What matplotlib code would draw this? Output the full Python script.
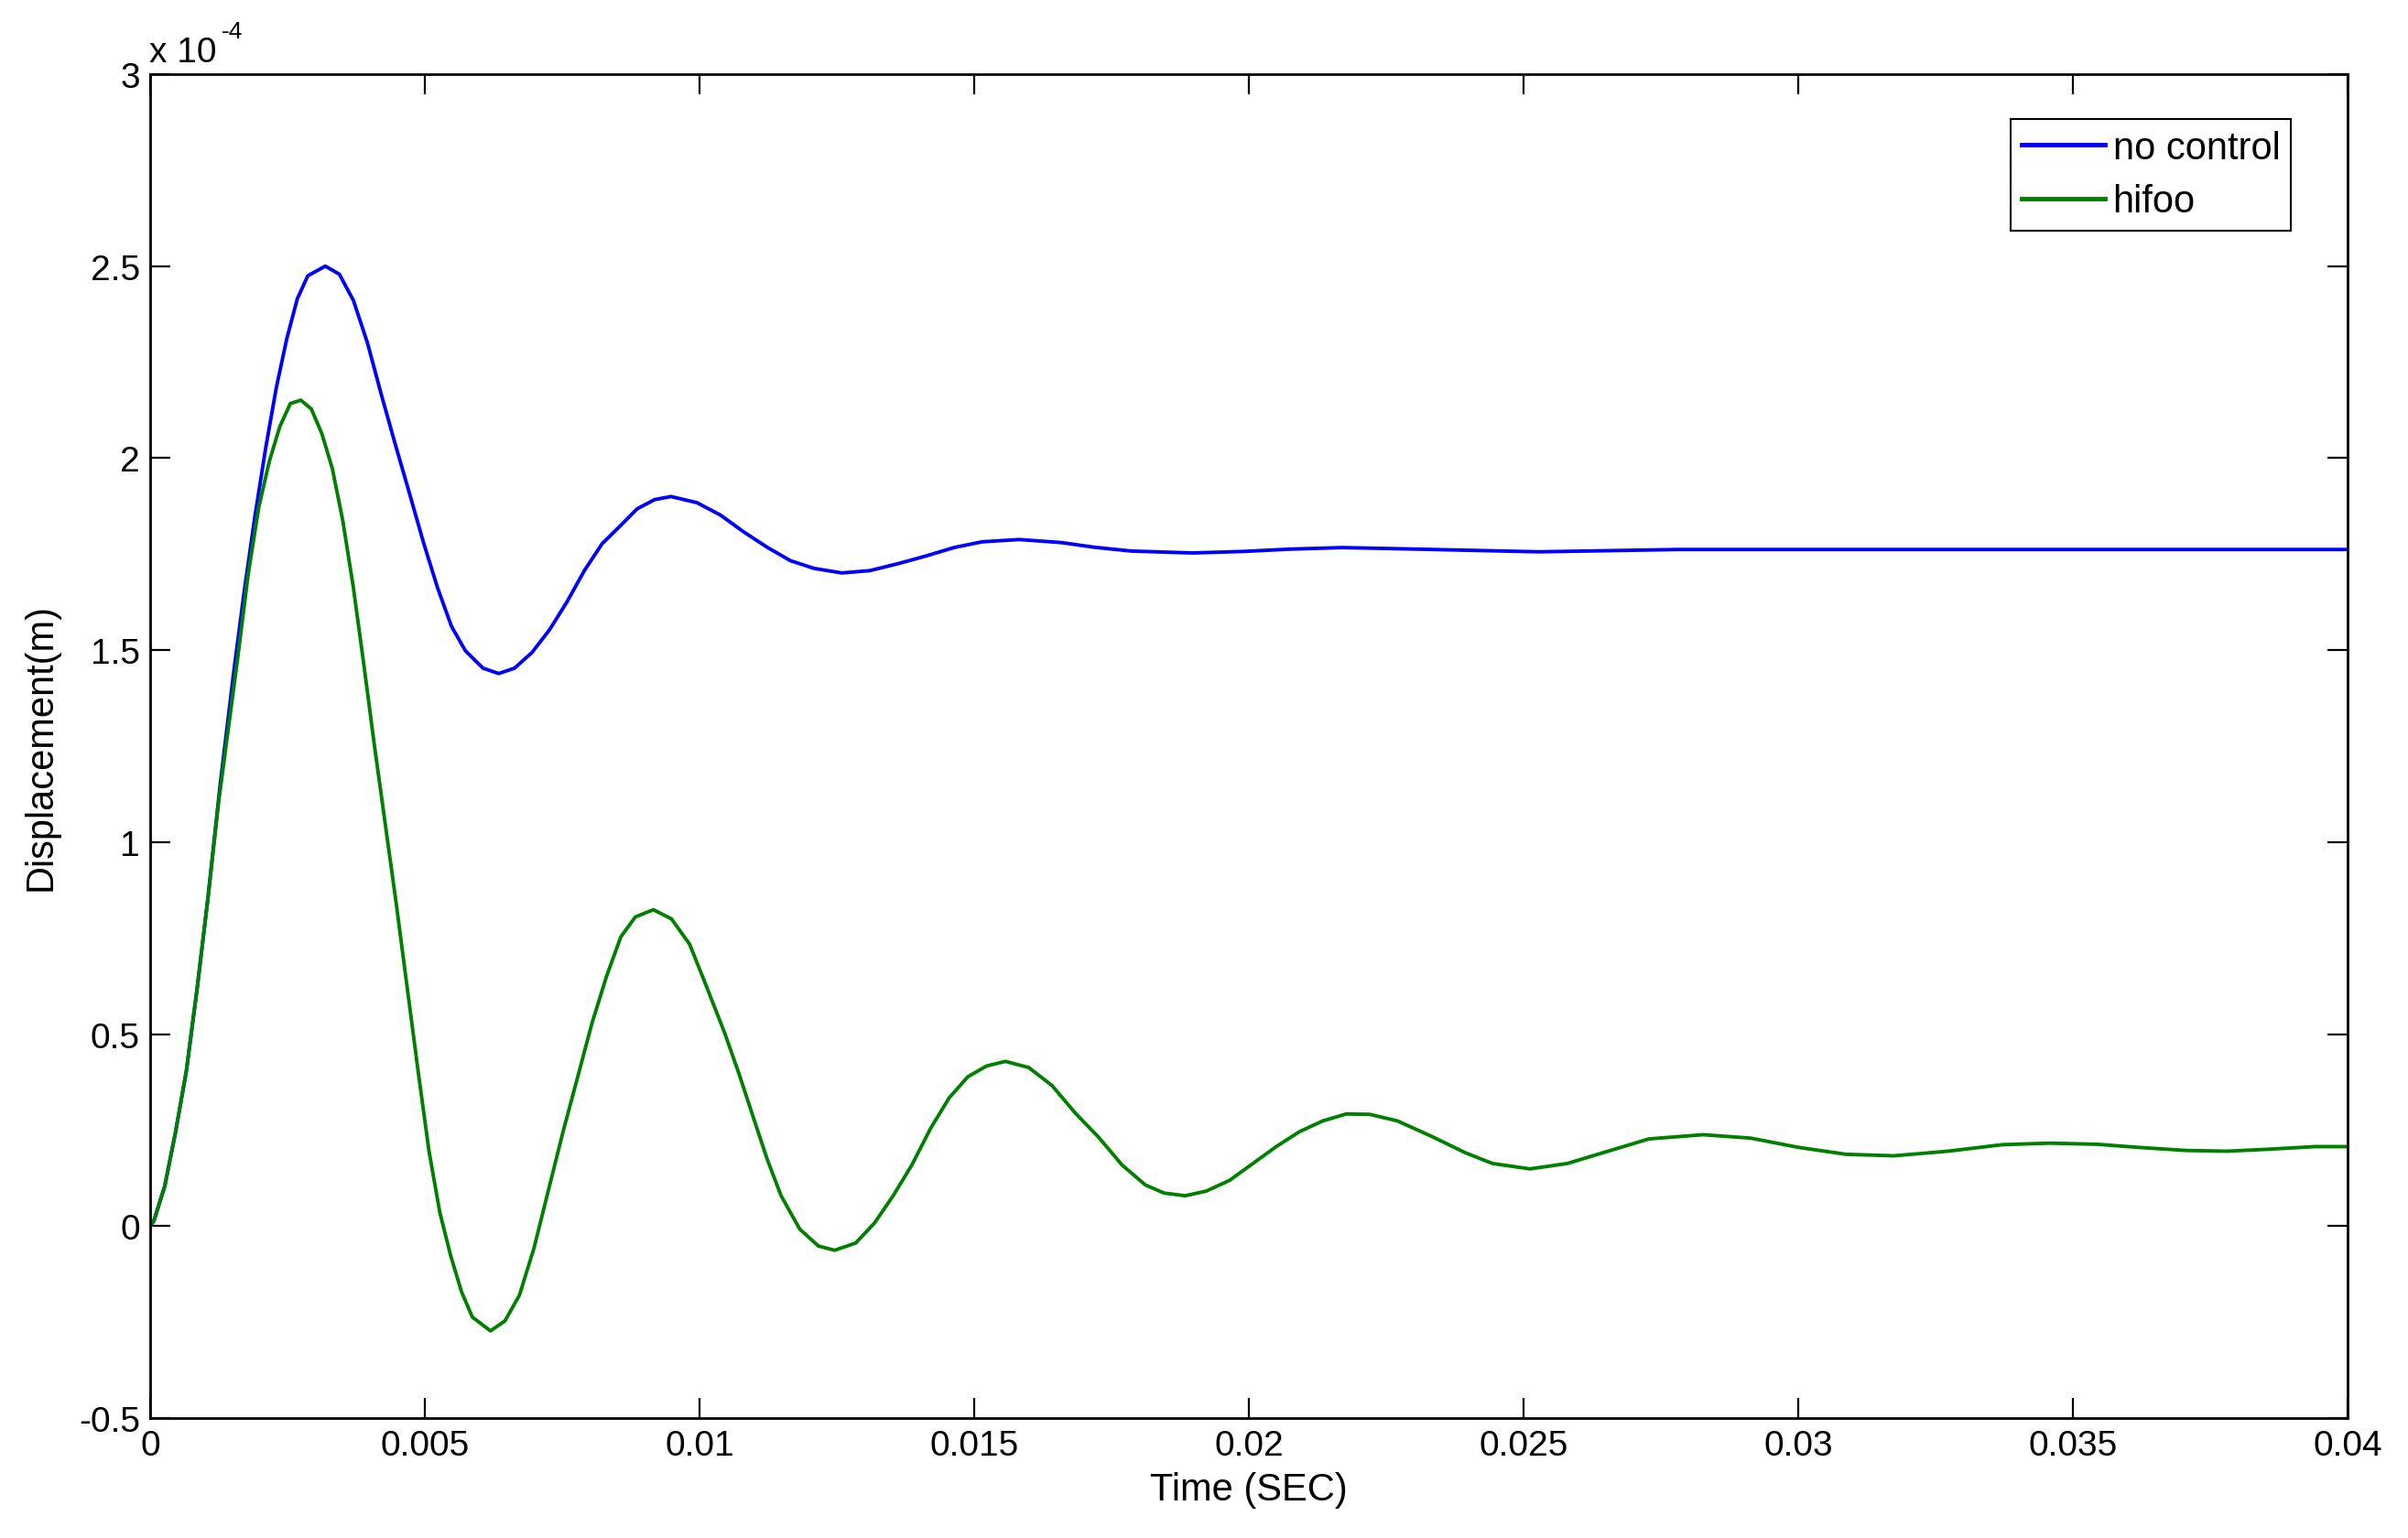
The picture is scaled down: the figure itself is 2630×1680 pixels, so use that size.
import matplotlib
matplotlib.use("Agg")
import matplotlib.pyplot as plt
from matplotlib.ticker import FuncFormatter, FixedLocator

plt.rcParams['font.family'] = ['Liberation Sans', 'DejaVu Sans']
plt.rcParams['axes.unicode_minus'] = False

# ---- data (displacement in units of 1e-4 m) ----
t_nocontrol = [0, 0.000066, 0.000264, 0.000461, 0.000659, 0.000857, 0.001054, 0.001276,
               0.00153, 0.001722, 0.001913, 0.002105, 0.002296, 0.002487, 0.002679, 0.00287,
               0.003189, 0.003444, 0.003699, 0.003954, 0.004209, 0.004464, 0.004719, 0.004974,
               0.00523, 0.005485, 0.00574, 0.006059, 0.006346, 0.006633, 0.006952, 0.00727,
               0.007589, 0.007908, 0.008227, 0.008546, 0.008865, 0.009184, 0.00948, 0.009953,
               0.010378, 0.010803, 0.01123, 0.011655, 0.01208, 0.01259, 0.0131, 0.01361,
               0.01412, 0.01463, 0.01514, 0.01582, 0.01659, 0.01718, 0.01786, 0.01897,
               0.0199, 0.02075, 0.02169, 0.02242, 0.02528, 0.02779, 0.04]
y_nocontrol = [0, 0.013, 0.103, 0.244, 0.404, 0.621, 0.857, 1.152,
               1.453, 1.663, 1.854, 2.028, 2.183, 2.311, 2.415, 2.475,
               2.500, 2.479, 2.411, 2.301, 2.165, 2.035, 1.909, 1.781,
               1.663, 1.562, 1.498, 1.453, 1.439, 1.453, 1.494, 1.553,
               1.626, 1.708, 1.777, 1.822, 1.868, 1.892, 1.900, 1.884,
               1.852, 1.808, 1.768, 1.733, 1.713, 1.701, 1.707, 1.725,
               1.745, 1.767, 1.782, 1.788, 1.780, 1.768, 1.758, 1.753,
               1.757, 1.763, 1.767, 1.765, 1.756, 1.762, 1.762]

t_hifoo = [0, 0.000066, 0.000264, 0.000461, 0.000659, 0.000857, 0.001054, 0.001252,
           0.001594, 0.001786, 0.001977, 0.002168, 0.00236, 0.002551, 0.002742, 0.002934,
           0.003125, 0.003316, 0.003508, 0.003699, 0.00389, 0.004082, 0.004481,
           0.004679, 0.004877, 0.005074, 0.005272, 0.00547, 0.005668, 0.005865, 0.006195,
           0.006458, 0.006722, 0.006986, 0.007249, 0.007513, 0.007776, 0.00804, 0.008304,
           0.008567, 0.008831, 0.00916, 0.00949, 0.00982, 0.010083, 0.010463, 0.010718,
           0.010973, 0.01123, 0.011485, 0.011825, 0.012165, 0.01246, 0.012845, 0.013185,
           0.013525, 0.013865, 0.014205, 0.014545, 0.014885, 0.015227, 0.015567, 0.015992,
           0.016417, 0.016842, 0.017267, 0.017692, 0.018117, 0.018457, 0.01884, 0.019222,
           0.019648, 0.020073, 0.020498, 0.020923, 0.021348, 0.021773, 0.022198, 0.022703,
           0.023322, 0.02394, 0.024435, 0.025117, 0.025797, 0.026538, 0.027282, 0.028272,
           0.029137, 0.030003, 0.03087, 0.031735, 0.032725, 0.033715, 0.034582, 0.035448,
           0.03619, 0.037057, 0.0378, 0.038542, 0.039407, 0.04]
y_hifoo = [0, 0.013, 0.103, 0.244, 0.404, 0.621, 0.857, 1.111,
           1.480, 1.699, 1.872, 1.991, 2.082, 2.142, 2.151, 2.128,
           2.064, 1.973, 1.836, 1.663, 1.462, 1.252, 0.838,
           0.621, 0.404, 0.197, 0.036, -0.077, -0.171, -0.237, -0.273,
           -0.247, -0.180, -0.058, 0.093, 0.244, 0.385, 0.527, 0.649,
           0.753, 0.805, 0.824, 0.800, 0.734, 0.640, 0.501, 0.397,
           0.286, 0.175, 0.079, -0.008, -0.052, -0.063, -0.044, 0.008,
           0.079, 0.159, 0.254, 0.334, 0.389, 0.417, 0.429, 0.413,
           0.366, 0.294, 0.231, 0.159, 0.107, 0.086, 0.079, 0.091,
           0.119, 0.163, 0.207, 0.246, 0.274, 0.292, 0.291, 0.274,
           0.234, 0.191, 0.163, 0.149, 0.163, 0.195, 0.227, 0.238,
           0.229, 0.205, 0.187, 0.183, 0.195, 0.212, 0.216, 0.213,
           0.205, 0.197, 0.195, 0.200, 0.207, 0.207]

series_labels = ['no control', 'hifoo']
x_ticks = [0, 0.005, 0.01, 0.015, 0.02, 0.025, 0.03, 0.035, 0.04]
y_ticks = [-0.5, 0, 0.5, 1, 1.5, 2, 2.5, 3]

W, H = 2630, 1681
fig = plt.figure(figsize=(W / 100, H / 100), dpi=100)
ax = fig.add_axes([164 / W, (H - 1550) / H, (2564 - 164) / W, (1550 - 82) / H])

fs = 28
fs_lab = 30
ax.plot(t_nocontrol, y_nocontrol, color='#0000ff', lw=2.8, label=series_labels[0],
        solid_joinstyle='round')
ax.plot(t_hifoo, y_hifoo, color='#008000', lw=2.8, label=series_labels[1],
        solid_joinstyle='round')

ax.set_xlim(0, 0.04)
ax.set_ylim(-0.5, 3)
ax.xaxis.set_major_locator(FixedLocator(x_ticks))
ax.yaxis.set_major_locator(FixedLocator(y_ticks))
ax.xaxis.set_major_formatter(FuncFormatter(lambda v, p: '%g' % v))
ax.yaxis.set_major_formatter(FuncFormatter(lambda v, p: '%g' % v))
ax.tick_params(direction='in', length=16, width=1.6, top=True, right=True,
               labelsize=fs, colors='black')
ax.tick_params(axis='x', pad=9)
ax.tick_params(axis='y', pad=8)
for s in ax.spines.values():
    s.set_linewidth(2.0)
    s.set_color('black')

fig.text(1364 / W, 1 - 1628 / H, 'Time (SEC)', ha='center', va='center', fontsize=fs_lab)
fig.text(45 / W, 1 - 816 / H, 'Displacement(m)', ha='center', va='center',
         rotation=90, fontsize=fs_lab)

# exponent label
fig.text(163 / W, 1 - 68 / H, 'x 10', ha='left', va='baseline', fontsize=fs)
fig.text(242 / W, 1 - 42 / H, '-4', ha='left', va='baseline', fontsize=19)

leg = ax.legend(loc='upper right', bbox_to_anchor=(2502 / W, 1 - 131 / H),
                bbox_transform=fig.transFigure, borderaxespad=0, fontsize=fs_lab,
                fancybox=False, framealpha=1, edgecolor='black',
                handlelength=2.2, handletextpad=0.2, labelspacing=0.45,
                borderpad=0.28)
leg.get_frame().set_linewidth(1.5)
for line in leg.get_lines():
    line.set_linewidth(3.5)

fig.savefig('out.png', dpi=100)
